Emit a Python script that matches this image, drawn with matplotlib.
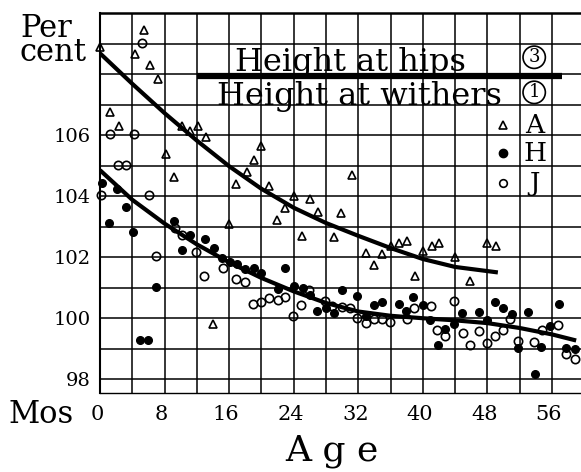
import matplotlib
matplotlib.use("Agg")
import matplotlib.pyplot as plt
from matplotlib.ticker import MultipleLocator, FixedLocator
from matplotlib.transforms import ScaledTranslation

plt.rcParams['font.family'] = ['DejaVu Serif']

# ---- data (age in months, percent) ----
a_age = [0, 5.4, 4.3, 6.2, 7.2, 1.2, 2.3, 8.2, 9.2, 10.1, 11.1, 12.1, 13.1, 14.0,
         16.0, 16.9, 18.2, 19.1, 20.0, 21.0, 21.9, 22.9, 24.1, 25.0, 26.0, 27.0,
         29.0, 29.9, 31.2, 33.0, 34.0, 34.9, 36.0, 37.0, 38.0, 39.0, 40.0, 41.1,
         42.0, 44.0, 45.9, 48.0, 49.1]
a_pct = [108.9, 109.45, 108.65, 108.3, 107.85, 106.75, 106.3, 105.38, 104.63, 106.3,
         106.13, 106.3, 105.93, 99.8, 103.1, 104.4, 104.8, 105.2, 105.65, 104.34,
         103.22, 103.6, 104.0, 102.7, 103.9, 103.47, 102.67, 103.44, 104.7, 102.15,
         101.76, 102.12, 102.37, 102.45, 102.52, 101.38, 102.2, 102.37, 102.48,
         102.0, 101.21, 102.45, 102.37]

h_age = [0.2, 1.1, 2.1, 3.2, 4.1, 5.0, 6.0, 7.0, 9.2, 10.1, 11.1, 13.0, 14.1, 15.1,
         16.1, 17.0, 18.0, 19.1, 20.0, 22.0, 22.9, 24.0, 25.2, 26.0, 26.9, 28.0,
         29.0, 30.0, 31.9, 33.0, 34.0, 35.0, 37.0, 37.9, 38.8, 40.0, 40.9, 41.9,
         42.7, 43.9, 44.9, 47.0, 47.9, 48.9, 49.9, 51.0, 51.8, 53.0, 53.9, 54.7,
         55.7, 56.9, 57.7, 58.9]
h_pct = [104.43, 103.12, 104.25, 103.63, 102.82, 99.3, 99.3, 101.03, 103.18, 102.23,
         102.72, 102.61, 102.31, 101.97, 101.83, 101.79, 101.6, 101.66, 101.49,
         100.95, 101.66, 101.06, 101.0, 100.75, 100.25, 100.35, 100.16, 100.94,
         100.73, 100.08, 100.43, 100.52, 100.48, 100.24, 100.7, 100.44, 99.93,
         99.11, 99.65, 99.8, 100.17, 100.21, 99.93, 100.53, 100.32, 100.13, 99.03,
         100.19, 98.18, 99.06, 99.74, 100.46, 99.04, 98.98]

j_age = [5.2, 1.2, 4.2, 2.2, 3.2, 0.1, 6.1, 6.9, 9.3, 10.1, 11.9, 12.9, 15.2, 16.9,
         18.0, 18.9, 19.9, 20.9, 22.0, 22.9, 23.9, 24.9, 25.9, 27.9, 28.8, 30.0,
         31.0, 31.9, 32.9, 33.9, 35.0, 35.9, 38.0, 38.9, 41.0, 41.8, 42.7, 43.9,
         45.0, 45.85, 46.9, 47.9, 48.9, 49.9, 50.8, 51.8, 53.8, 54.8, 56.8, 57.8,
         58.8]
j_pct = [109.03, 106.03, 106.05, 105.02, 105.02, 104.03, 104.03, 102.05, 102.94,
         102.72, 102.16, 101.39, 101.65, 101.28, 101.19, 100.45, 100.54, 100.66,
         100.59, 100.69, 100.07, 100.44, 100.94, 100.56, 100.4, 100.38, 100.35,
         100.01, 99.83, 99.99, 99.99, 99.88, 99.97, 100.34, 100.4, 99.63, 99.42,
         100.56, 99.5, 99.11, 99.58, 99.19, 99.42, 99.6, 99.96, 99.26, 99.22, 99.6,
         99.77, 98.84, 98.68]

# fitted curves
hips_age = [0, 4, 8, 12, 16, 20, 24, 28, 32, 36, 40, 44, 49.3]
hips_pct = [108.68, 107.68, 106.72, 105.82, 104.98, 104.24, 103.62, 103.12, 102.7,
            102.3, 101.94, 101.68, 101.5]
with_age = [0, 4, 8, 12, 16, 20, 24, 28, 32, 36, 40, 44, 48, 52, 56, 59]
with_pct = [104.85, 103.88, 103.1, 102.42, 101.83, 101.32, 100.88, 100.5, 100.22,
            100.08, 100.0, 99.93, 99.84, 99.68, 99.47, 99.27]

y_ticks = [98, 100, 102, 104, 106]
x_ticks = [0, 8, 16, 24, 32, 40, 48, 56]

W, H = 581, 472
fig = plt.figure(figsize=(W / 100, H / 100), dpi=100)
ax = fig.add_axes([100 / W, 1 - 393 / H, 481 / W, 380 / H])
ax.set_xlim(0, 59.6)
ax.set_ylim(97.55, 110)

# grid
ax.yaxis.set_major_locator(FixedLocator(y_ticks))
ax.yaxis.set_minor_locator(MultipleLocator(1))
ax.xaxis.set_major_locator(FixedLocator(x_ticks))
ax.xaxis.set_minor_locator(MultipleLocator(4))
ax.grid(True, which='both', color='black', linewidth=1.1)
ax.set_axisbelow(True)
ax.tick_params(which='both', length=0)
ax.tick_params(axis='y', labelsize=14, pad=7)
ax.tick_params(axis='x', labelsize=15, pad=9)
ax.set_yticklabels([str(v) for v in y_ticks])
ax.set_xticklabels([str(v) for v in x_ticks])
shift = ScaledTranslation(-3 / 100, 0, fig.dpi_scale_trans)
for lab in ax.get_xticklabels():
    lab.set_transform(lab.get_transform() + shift)
ax.spines['right'].set_visible(False)
ax.spines['top'].set_linewidth(1.8)
ax.spines['left'].set_linewidth(1.5)
ax.spines['bottom'].set_linewidth(1.0)

# curves
ax.plot(hips_age, hips_pct, color='black', lw=3.0, solid_capstyle='butt',
        solid_joinstyle='round', zorder=3)
ax.plot(with_age, with_pct, color='black', lw=3.0, solid_capstyle='butt',
        solid_joinstyle='round', zorder=3)

# points
ax.plot(a_age, a_pct, linestyle='none', marker='^', ms=6, mfc='none', mec='black',
        mew=1.2, zorder=4, clip_on=False)
ax.plot(h_age, h_pct, linestyle='none', marker='o', ms=5.5, mfc='black', mec='black',
        zorder=4, clip_on=False)
ax.plot(j_age, j_pct, linestyle='none', marker='o', ms=6, mfc='none', mec='black',
        mew=1.2, zorder=4, clip_on=False)

# legend
ax.plot([12, 57.3], [107.93, 107.93], color='black', lw=4.5, solid_capstyle='butt', zorder=3)
ax.text(31.0, 108.1, 'Height at hips', fontsize=23, ha='center', va='baseline', zorder=5)
ax.text(32.2, 107.0, 'Height at withers', fontsize=23, ha='center', va='baseline', zorder=5)
for yy, num in [(108.55, '3'), (107.4, '1')]:
    ax.text(53.8, yy, num, fontsize=13, ha='center', va='center', zorder=5,
            bbox=dict(boxstyle='circle,pad=0.12', fc='white', ec='black', lw=1.2))
leg_y = [106.33, 105.4, 104.43]
ax.plot([49.9], [leg_y[0]], marker='^', ms=6, mfc='none', mec='black', mew=1.2, zorder=5)
ax.plot([49.9], [leg_y[1]], marker='o', ms=6, mfc='black', mec='black', zorder=5)
ax.plot([49.9], [leg_y[2]], marker='o', ms=5.5, mfc='none', mec='black', mew=1.2, zorder=5)
for yy, lab in zip(leg_y, ['A', 'H', 'J']):
    ax.text(53.9, yy, lab, fontsize=19, ha='center', va='center', zorder=5)

# labels
fig.text(20 / W, 1 - 13 / H, 'Per\ncent', fontsize=22, ha='left', va='top',
         linespacing=0.72)
fig.text(8 / W, 1 - 423 / H, 'Mos', fontsize=22, ha='left', va='baseline')
fig.text(332 / W, 1 - 461 / H, 'A g e', fontsize=26, ha='center', va='baseline')

fig.savefig('out.png', dpi=100)
